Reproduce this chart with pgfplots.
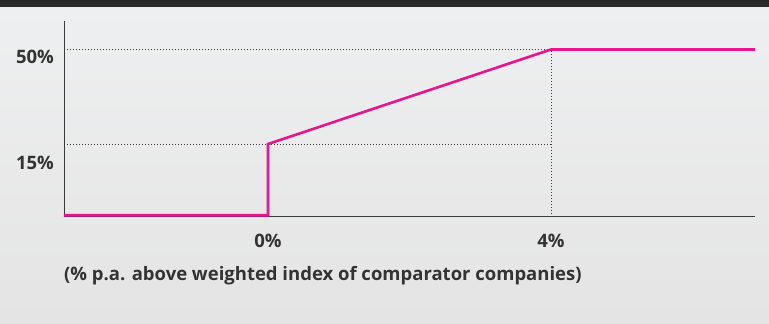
\documentclass[border=0pt]{standalone}
\usepackage{pgfplots}
\pgfplotsset{compat=1.18}
\usepackage{fontspec}
\setmainfont{Open Sans}
\definecolor{bgtop}{HTML}{EEEFF0}
\definecolor{bgbot}{HTML}{E4E4E4}
\definecolor{band}{HTML}{2B2A2B}
\definecolor{mag}{HTML}{EA148C}
\definecolor{txt}{HTML}{333333}
\definecolor{ax}{HTML}{3A3A3A}
\begin{document}
\begin{tikzpicture}
\shade[top color=bgtop,bottom color=bgbot] (0,0) rectangle (769pt,317pt);
\fill[band] (0,317pt) rectangle (769pt,324pt);
\begin{axis}[
  at={(64pt,108pt)}, anchor=south west,
  scale only axis, width=691pt, height=195pt,
  xmin=-2.883, xmax=6.883, ymin=-11.67, ymax=60.56,
  axis lines=left, axis line style={-, ax, line width=0.9pt},
  major tick length=0pt,
  xtick={0,4}, xticklabels={0\%,4\%},
  xticklabel style={anchor=base, yshift=-32pt, font=\fontsize{18.5}{21}\selectfont\bfseries, text=txt, inner sep=0pt},
  ytick={50}, yticklabels={50\%},
  yticklabel style={anchor=base east, xshift=-10pt, yshift=-13.8pt, font=\fontsize{18.5}{21}\selectfont\bfseries, text=txt, inner sep=0pt},
  extra y ticks={15}, extra y tick labels={15\%},
  extra y tick style={yticklabel style={yshift=-11.5pt}},
  xlabel={(\% p.a. above weighted index of comparator companies)},
  xlabel style={at={(axis description cs:0,0)}, anchor=base west, yshift=-65pt, inner sep=0pt, font=\fontsize{18.5}{21}\selectfont\bfseries, text=txt},
  clip=false,
]
\addplot[ax, line width=0.8pt, dash pattern=on 1pt off 2pt] coordinates {(-2.883,50) (4,50) (4,-11.67)};
\addplot[ax, line width=0.8pt, dash pattern=on 1pt off 2pt] coordinates {(-2.883,15) (4,15)};
\addplot[mag, line width=2.6pt, line join=miter] coordinates {(-2.883,-11.4) (0,-11.4) (0,15) (4,50) (6.883,50)};
\end{axis}
\end{tikzpicture}
\end{document}
